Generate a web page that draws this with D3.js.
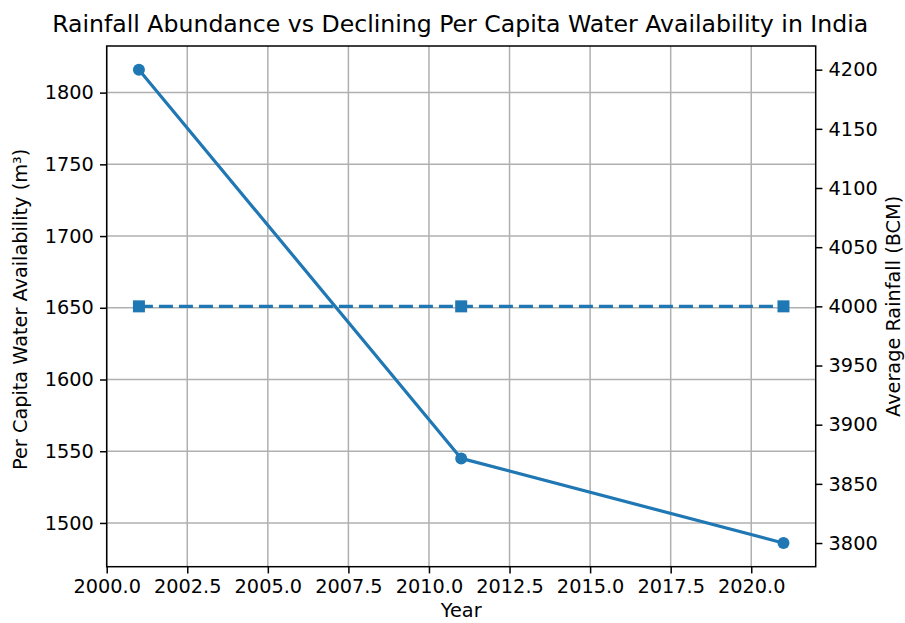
<!DOCTYPE html>
<html>
<head>
<meta charset="utf-8">
<script src="https://cdn.jsdelivr.net/npm/d3@7"></script>
<style>
  body { margin: 0; background: #fff; }
  svg text { font-family: "DejaVu Sans", sans-serif; fill: #000; }
</style>
</head>
<body>
<div class="vis-chart"></div>
<script>
const years = [2001, 2011, 2021];
const perCapita = [1816, 1545, 1486];
const rainfall = [4000, 4000, 4000];
const xTicks = [2000, 2002.5, 2005, 2007.5, 2010, 2012.5, 2015, 2017.5, 2020];
const leftTicks = [1500, 1550, 1600, 1650, 1700, 1750, 1800];
const rightTicks = [3800, 3850, 3900, 3950, 4000, 4050, 4100, 4150, 4200];

const width = 905;
const height = 623;
const box = { left: 106.7, right: 815.7, top: 46, bottom: 566.7 };
const blue = "#1f77b4";
const tickLen = 6.7;
const fs = 19.3;

const svg = d3.select(".vis-chart").append("svg")
  .attr("width", width).attr("height", height);

// margins like matplotlib (5%)
const pad = (ext) => { const d = (ext[1] - ext[0]) * 0.05; return [ext[0] - d, ext[1] + d]; };

const x = d3.scaleLinear().domain(pad(d3.extent(years))).range([box.left, box.right]);
const yL = d3.scaleLinear().domain(pad(d3.extent(perCapita))).range([box.bottom, box.top]);
// constant series -> expand by 5% of value, then margins
const rv = rainfall[0];
const yR = d3.scaleLinear().domain(pad([rv - rv * 0.05, rv + rv * 0.05])).range([box.bottom, box.top]);

// grid
const grid = svg.append("g").attr("stroke", "#b0b0b0").attr("stroke-width", 1.5);
xTicks.forEach(t => {
  grid.append("line").attr("x1", x(t)).attr("x2", x(t)).attr("y1", box.top).attr("y2", box.bottom);
});
leftTicks.forEach(t => {
  grid.append("line").attr("x1", box.left).attr("x2", box.right).attr("y1", yL(t)).attr("y2", yL(t));
});

// per capita line
const lineL = d3.line().x((d, i) => x(years[i])).y(d => yL(d));
svg.append("path").datum(perCapita)
  .attr("d", lineL).attr("fill", "none").attr("stroke", blue).attr("stroke-width", 3.2)
  .attr("stroke-linejoin", "round").attr("stroke-linecap", "square");
svg.append("g").selectAll("circle").data(perCapita).enter().append("circle")
  .attr("cx", (d, i) => x(years[i])).attr("cy", d => yL(d)).attr("r", 6)
  .attr("fill", blue);

// rainfall line
const lineR = d3.line().x((d, i) => x(years[i])).y(d => yR(d));
svg.append("path").datum(rainfall)
  .attr("d", lineR).attr("fill", "none").attr("stroke", blue).attr("stroke-width", 3.2)
  .attr("stroke-dasharray", "14,6");
const sq = 12;
svg.append("g").selectAll("rect").data(rainfall).enter().append("rect")
  .attr("x", (d, i) => x(years[i]) - sq / 2).attr("y", d => yR(d) - sq / 2)
  .attr("width", sq).attr("height", sq).attr("fill", blue);

// axes with d3 axis generators
const styleAxis = (g) => {
  g.select(".domain").remove();
  g.selectAll(".tick line").attr("stroke", "#000").attr("stroke-width", 1.5);
  g.selectAll(".tick text").attr("font-size", fs).attr("font-family", "DejaVu Sans").attr("fill", "#000");
};

svg.append("g").attr("transform", `translate(0,${box.bottom})`)
  .call(d3.axisBottom(x).tickValues(xTicks).tickFormat(d3.format(".1f")).tickSizeOuter(0).tickSize(tickLen).tickPadding(6.2))
  .call(styleAxis);

svg.append("g").attr("transform", `translate(${box.left},0)`)
  .call(d3.axisLeft(yL).tickValues(leftTicks).tickFormat(d3.format("d")).tickSize(tickLen).tickPadding(6.2))
  .call(styleAxis);

svg.append("g").attr("transform", `translate(${box.right},0)`)
  .call(d3.axisRight(yR).tickValues(rightTicks).tickFormat(d3.format("d")).tickSize(tickLen).tickPadding(6.2))
  .call(styleAxis);

// spines
svg.append("rect")
  .attr("x", box.left).attr("y", box.top)
  .attr("width", box.right - box.left).attr("height", box.bottom - box.top)
  .attr("fill", "none").attr("stroke", "#000").attr("stroke-width", 1.5);

// labels
const cx = (box.left + box.right) / 2;
const cy = (box.top + box.bottom) / 2;
svg.append("text").attr("x", cx - 1).attr("y", 32).attr("text-anchor", "middle")
  .attr("font-size", 23.6)
  .text("Rainfall Abundance vs Declining Per Capita Water Availability in India");
svg.append("text").attr("x", cx).attr("y", 617).attr("text-anchor", "middle")
  .attr("font-size", fs).text("Year");
svg.append("text").attr("transform", `translate(27,${cy + 3}) rotate(-90)`)
  .attr("text-anchor", "middle").attr("font-size", fs)
  .text("Per Capita Water Availability (m³)");
svg.append("text").attr("transform", `translate(900,${cy}) rotate(-90)`)
  .attr("text-anchor", "middle").attr("font-size", fs)
  .text("Average Rainfall (BCM)");
</script>
</body>
</html>
